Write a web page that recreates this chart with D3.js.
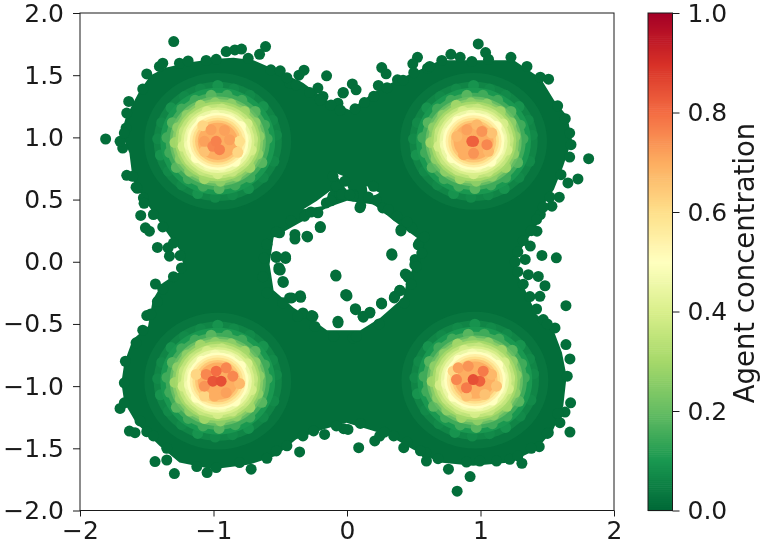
<!DOCTYPE html>
<html><head><meta charset="utf-8">
<script src="https://cdn.jsdelivr.net/npm/d3@7/dist/d3.min.js"></script>
<style>html,body{margin:0;padding:0;background:#fff}svg{display:block;filter:blur(0.45px)}text{font-family:"DejaVu Sans";fill:#1a1a1a}</style>
</head><body><svg id="c" width="762" height="545"></svg>
<script>
const xTicks=[-2,-1,0,1,2];
const yTicks=[-2,-1.5,-1,-0.5,0,0.5,1,1.5,2];
const barTicks=[0,0.2,0.4,0.6,0.8,1];
const cmapStops=["#006837","#1a9850","#66bd63","#a6d96a","#d9ef8b","#ffffbf","#fee08b","#fdae61","#f46d43","#d73027","#a50026"];
const clusterCentres=[[-0.968,0.968],[0.948,0.968],[-0.968,-0.96],[0.958,-0.952]];
const bandLevels=[0.03,0.06,0.1,0.15,0.2,0.25,0.3,0.35,0.4,0.45,0.5,0.55,0.6,0.65,0.7];
const bandRadii=[0.55,0.48,0.43,0.39,0.36,0.34,0.32,0.3,0.275,0.255,0.23,0.21,0.19,0.17,0.15];
const ringX=[0.2,0.17,0.09,-0.02,-0.12,-0.19,-0.21,-0.16,-0.07,0.03,0.13,0.19,
0.26,0.22,0.14,0.03,-0.08,-0.18,-0.25,-0.26,-0.21,-0.12,0,0.11,0.2,0.25,
0.31,0.28,0.2,0.1,-0.02,-0.13,-0.23,-0.3,-0.32,-0.28,-0.21,-0.1,0.02,0.14,0.24,0.3,
0.37,0.35,0.28,0.18,0.07,-0.05,-0.17,-0.27,-0.34,-0.38,-0.36,-0.31,-0.22,-0.11,0.01,0.13,0.24,0.33,
0.44,0.41,0.34,0.24,0.12,0,-0.13,-0.25,-0.35,-0.42,-0.45,-0.43,-0.37,-0.27,-0.15,-0.02,0.11,0.23,0.34,0.42];
const ringY=[0.03,0.12,0.18,0.21,0.16,0.07,-0.03,-0.13,-0.19,-0.2,-0.16,-0.07,
0.02,0.14,0.21,0.26,0.24,0.18,0.08,-0.04,-0.15,-0.23,-0.26,-0.24,-0.16,-0.07,
0.04,0.15,0.24,0.3,0.31,0.29,0.21,0.11,-0.01,-0.14,-0.24,-0.3,-0.32,-0.28,-0.21,-0.1,
0.02,0.13,0.24,0.33,0.37,0.37,0.33,0.26,0.15,0.03,-0.09,-0.21,-0.3,-0.36,-0.38,-0.35,-0.29,-0.17,
0.05,0.17,0.28,0.37,0.42,0.45,0.42,0.36,0.27,0.15,0.02,-0.11,-0.24,-0.35,-0.42,-0.45,-0.43,-0.38,-0.29,-0.16];
const ringC=[0.47,0.5,0.47,0.47,0.5,0.47,0.47,0.5,0.47,0.47,0.5,0.47,
0.36,0.39,0.36,0.36,0.39,0.36,0.36,0.39,0.36,0.36,0.39,0.36,0.36,0.39,
0.26,0.26,0.29,0.26,0.26,0.29,0.26,0.26,0.29,0.26,0.26,0.29,0.26,0.26,0.29,0.26,
0.15,0.15,0.18,0.15,0.15,0.18,0.15,0.15,0.18,0.15,0.15,0.18,0.15,0.15,0.18,0.15,0.15,0.18,
0.07,0.07,0.09,0.07,0.07,0.09,0.07,0.07,0.09,0.07,0.07,0.09,0.07,0.07,0.09,0.07,0.07,0.09,0.07,0.07];
const bodyOutline=[[-1.69,1.035],[-1.66,1.15],[-1.6,1.28],[-1.55,1.38],[-1.47,1.5],[-1.36,1.56],[-1.2,1.6],[-1,1.63],[-0.85,1.64],[-0.7,1.62],[-0.55,1.55],[-0.33,1.44],[-0.155,1.3],[0.02,1.22],[0.2,1.36],[0.37,1.46],[0.57,1.556],[0.7,1.62],[0.95,1.62],[1.25,1.62],[1.45,1.476],[1.55,1.3],[1.65,1.17],[1.685,0.98],[1.62,0.77],[1.55,0.58],[1.45,0.42],[1.42,0.29],[1.27,0.045],[1.26,-0.064],[1.345,-0.25],[1.42,-0.425],[1.545,-0.545],[1.61,-0.73],[1.645,-0.92],[1.62,-1.16],[1.545,-1.35],[1.42,-1.51],[1.22,-1.615],[0.945,-1.64],[0.695,-1.615],[0.495,-1.51],[0.32,-1.4],[0.17,-1.35],[-0.005,-1.294],[-0.18,-1.348],[-0.38,-1.428],[-0.53,-1.56],[-0.73,-1.63],[-1.005,-1.668],[-1.255,-1.615],[-1.405,-1.48],[-1.58,-1.294],[-1.668,-1.134],[-1.69,-0.973],[-1.668,-0.813],[-1.605,-0.626],[-1.49,-0.519],[-1.455,-0.305],[-1.38,-0.171],[-1.23,-0.064],[-1.23,-0.008],[-1.255,0.099],[-1.33,0.206],[-1.418,0.34],[-1.518,0.5],[-1.605,0.66],[-1.63,0.874]];
const holeOutline=[[-0.55,0.195],[-0.377,0.3],[-0.15,0.435],[0,0.49],[0.2,0.46],[0.35,0.33],[0.55,0.17],[0.52,0.01],[0.45,-0.15],[0.42,-0.29],[0.25,-0.45],[0.1,-0.55],[-0.15,-0.55],[-0.28,-0.45],[-0.4,-0.37],[-0.55,-0.23],[-0.58,-0.02]];
const gapOutlines=[[[-0.327,0.422],[-0.227,0.489],[-0.127,0.569],[-0.115,0.515],[-0.177,0.449]],[[-0.09,0.716],[-0.028,0.689],[0.028,0.542],[-0.015,0.595]],[[0.147,0.609],[0.242,0.555],[0.16,0.502]]];
const edgeX=[-1.298,-1.808,-0.61,-0.153,-0.322,-0.36,-0.2,-0.3,-0.39,-1.545,-0.53,-0.46,-0.51,-1.42,-1.34,-1.33,-1.51,-1.48,-1.65,-1.605,-1.57,-1.525,-1.68,-1.7,-1.65,-1.635,-1.53,-1.5,-1.405,-1.38,-1.255,-1.19,-1.055,-0.98,-0.905,-0.84,-0.79,-0.655,-0.74,-0.57,-0.5,-0.43,-0.218,-0.18,-0.068,-0.03,-1.655,-1.668,-0.105,-0.055,-0.155,-0.218,-0.318,-0.08,-0.018,-0.505,-0.105,
0.983,1.038,0.528,0.493,0.603,0.26,0.293,0.04,0.068,-0.028,0.235,0.378,1.81,1.73,1.655,1.668,1.678,1.668,1.635,1.578,1.51,1.448,1.348,1.228,0.778,0.848,0.71,0.935,1.06,1.59,1.535,1.603,1.448,1.423,0.405,0.335,0.543,1.46,1.568,1.373,1.335,0.51,0.103,0.048,0.218,0.268,0.198,-0.04,0.373,0.485,
-0.005,0.0625,0.17,0.12,0.258,0.395,0.358,0.445,0.508,1.64,1.483,1.433,1.358,1.445,1.558,1.47,1.64,1.67,1.65,1.675,1.633,1.67,1.595,1.44,1.31,1.12,0.995,0.895,0.922,0.825,0.76,0.682,0.595,0.59,0.425,0.0875,0.208,0.245,0.0075,0.045,1.508,1.22,
-0.085,-0.01,-0.48,-0.35,-0.43,-0.068,-0.255,-0.33,-0.168,-0.355,-0.025,-0.718,-0.805,-0.98,-1.048,-1.125,-1.293,-1.35,-1.438,-1.63,-1.588,-1.5,-1.7,-1.668,-1.668,-1.66,-1.58,-1.5,-1.435,-0.51,-0.53,
-0.2,-0.295,-0.53,-0.46,-0.5,-0.477,-0.082,0.337,0.404,0.437,0.459,0.397,0.354,0.26,0,0.065,-0.067,0.172,0.122,0.097,0.047,-0.264,-0.347,-0.414,-0.39,0.534,
-0.45,-0.38,-0.28,-0.2,-0.12,-0.05,0.06,0.13,0.2,0.3,0.42,0.5,0.62,
1.52,1.47,1.42,1.38,1.32,1.28,1.26,1.28,1.32,1.37,1.42,1.5,
1.58,1.5,1.38,1.28,0.55,0.45,0.35,0.28,0.1,-0.08,-0.25,-0.33,-0.45,-0.6,-1.35,-1.45,-1.55,
-1.53,-1.47,-1.42,-1.38,-1.3,-1.24,-1.25,-1.3,-1.38,-1.45,-1.52,-1.58,
-0.53,-0.42,-0.27,-0.12,0.02,0.16,0.31,0.45,0.58,0.56,0.52,0.48,0.43,0.24,0.07,-0.1,-0.24,-0.37,-0.48,-0.6,-0.63,-0.62,-0.6];
const edgeY=[1.77,0.987,1.73,1.495,1.54,1.5,0.283,0.206,0.22,0.372,0.043,0.04,-0.048,0.115,0.112,0.045,0.273,0.246,0.695,0.687,0.59,0.513,0.914,0.968,1.195,1.289,1.388,1.51,1.57,1.596,1.596,1.615,1.618,1.628,1.69,1.703,1.71,1.668,1.636,1.543,1.535,1.436,1.396,1.329,1.275,1.356,1.075,1.035,0.527,0.54,0.473,0.393,0.366,0.607,0.647,0.233,0.687,
1.751,1.682,1.644,1.591,1.556,1.561,1.511,1.43,1.382,1.361,1.417,1.463,0.829,0.666,0.634,0.842,0.941,1.035,1.15,1.254,1.468,1.484,1.57,1.644,1.668,1.644,1.618,1.61,1.628,0.519,0.447,0.7,0.38,0.246,0.259,0.064,0.152,0.051,0.032,0.126,0.019,0.019,0.452,0.54,0.495,0.433,0.607,0.54,0.366,0.273,
-0.265,-0.377,-0.412,-0.438,-0.332,-0.23,-0.278,-0.104,-0.024,-0.353,-0.193,-0.118,-0.104,-0.278,-0.532,-0.465,-0.666,-0.781,-0.92,-1.134,-1.209,-1.369,-1.294,-1.487,-1.62,-1.602,-1.602,-1.61,-1.727,-1.845,-1.668,-1.583,-1.602,-1.535,-1.495,-1.495,-1.441,-1.401,-1.348,-0.612,-1.374,-1.588,
-0.107,-0.265,-0.158,-0.273,-0.291,-0.479,-0.439,-0.412,-1.388,-1.529,-1.342,-1.668,-1.615,-1.655,-1.695,-1.647,-1.703,-1.594,-1.607,-1.361,-1.374,-1.366,-1.179,-1.134,-0.973,-0.8,-0.652,-0.433,-0.179,-0.064,-1.521,
0.275,0.2,0.035,0.027,-0.067,-0.166,-0.115,0.053,0.248,-0.099,-0.126,-0.232,-0.291,-0.339,-0.275,-0.385,-0.491,-0.406,-0.446,0.435,0.529,-0.433,-0.286,-0.291,0.182,0.136,
1.48,1.42,1.36,1.3,1.26,1.22,1.23,1.28,1.33,1.4,1.46,1.52,1.57,
0.52,0.44,0.34,0.25,0.17,0.08,0,-0.08,-0.18,-0.28,-0.38,-0.5,
-1.22,-1.38,-1.5,-1.56,-1.52,-1.45,-1.4,-1.37,-1.3,-1.32,-1.36,-1.4,-1.48,-1.58,-1.5,-1.4,-1.28,
-0.55,-0.42,-0.32,-0.22,-0.12,-0.05,0.05,0.15,0.28,0.38,0.47,0.6,
0.24,0.33,0.4,0.49,0.54,0.52,0.42,0.32,0.2,0.07,-0.04,-0.18,-0.33,-0.5,-0.6,-0.6,-0.52,-0.44,-0.33,-0.25,-0.12,0.03,0.14];
const coreX=[-1.018,-0.918,-1.068,-0.88,-0.98,-0.955,-1.005,-0.818,-1.068,-1.08,-0.805,
0.898,0.973,0.823,1.01,0.948,1.048,1.085,0.873,0.948,1.06,0.935,
-1.055,-0.98,-0.905,-0.855,-0.943,-1.005,-1.068,-0.905,-0.805,-0.993,-1.068,-1.13,
0.833,0.908,1.02,1.083,0.82,0.945,0.995,0.895,1.12,1.033,0.895,0.795];
const coreY=[1.061,1.056,0.968,0.981,0.968,0.901,0.928,0.88,0.888,1.094,0.968,
1.061,1.102,1.008,1.048,0.968,0.941,1.035,0.861,0.872,0.888,0.968,
-0.906,-0.88,-0.853,-0.92,-0.96,-0.96,-1,-1.053,-0.979,-1.08,-1.08,-0.906,
-0.853,-0.84,-0.88,-0.906,-0.947,-0.947,-0.96,-1.013,-1,-1.067,-1.08,-0.88];
const coreC=[0.72,0.72,0.72,0.72,0.77,0.77,0.76,0.62,0.66,0.62,0.6,
0.72,0.68,0.68,0.74,0.82,0.76,0.66,0.7,0.74,0.68,0.82,
0.76,0.8,0.76,0.76,0.85,0.84,0.74,0.72,0.68,0.7,0.62,0.62,
0.72,0.74,0.78,0.68,0.76,0.85,0.82,0.78,0.66,0.66,0.66,0.62];

const L=80,R=614,T=13,B=510.5,dotR=5.5;
const x=d3.scaleLinear().domain([-2,2]).range([L,R]);
const y=d3.scaleLinear().domain([-2,2]).range([B,T]);
const colour=d3.scaleLinear().domain(cmapStops.map((_,i)=>i/10)).range(cmapStops).interpolate(d3.interpolateRgb);
const svg=d3.select("#c");
const plot=svg.append("g");
const line=d3.line().x(d=>x(d[0])).y(d=>y(d[1])).curve(d3.curveLinearClosed);
plot.append("path").attr("d",line(bodyOutline)+line(holeOutline)+gapOutlines.map(g=>line(g)).join("")).attr("fill-rule","evenodd").attr("fill",colour(0.012));
plot.append("g").selectAll("circle").data(edgeX.map((v,i)=>[v,edgeY[i]])).join("circle")
 .attr("cx",d=>x(d[0])).attr("cy",d=>y(d[1])).attr("r",dotR).attr("fill",colour(0.012));
const ux=x(1)-x(0),uy=y(0)-y(1);
clusterCentres.forEach(c=>{
 const marks=bandLevels.map((l,i)=>({c:l,cx:c[0],cy:c[1],rx:bandRadii[i]*ux,ry:bandRadii[i]*uy}))
  .concat(ringX.map((v,i)=>({c:ringC[i],cx:c[0]+v,cy:c[1]+ringY[i],rx:dotR,ry:dotR})))
  .sort((a,b)=>a.c-b.c);
 plot.append("g").selectAll("ellipse").data(marks).join("ellipse")
  .attr("cx",d=>x(d.cx)).attr("cy",d=>y(d.cy)).attr("rx",d=>d.rx).attr("ry",d=>d.ry).attr("fill",d=>colour(d.c));
});
plot.append("g").selectAll("circle").data(coreX.map((v,i)=>[v,coreY[i],coreC[i]]).sort((a,b)=>a[2]-b[2])).join("circle")
 .attr("cx",d=>x(d[0])).attr("cy",d=>y(d[1])).attr("r",dotR).attr("fill",d=>colour(d[2]));

const fs=25;
function style(g){g.selectAll("text").style("font-size",fs+"px").style("font-family","DejaVu Sans").style("fill","#1a1a1a");
 g.selectAll(".tick line").attr("stroke","#1a1a1a").attr("stroke-width",1);g.select(".domain").remove();}
const fmt=d=>d3.format(".1f")(d).replace("-","\u2212");
svg.append("g").attr("transform",`translate(0,${B})`)
 .call(d3.axisBottom(x).tickValues(xTicks).tickSize(6).tickPadding(4.5).tickFormat(d=>String(d).replace("-","\u2212"))).call(style);
svg.append("g").attr("transform",`translate(${L},0)`)
 .call(d3.axisLeft(y).tickValues(yTicks).tickSize(7).tickPadding(9).tickFormat(fmt)).call(style);
svg.append("rect").attr("x",L).attr("y",T).attr("width",R-L).attr("height",B-T).attr("fill","none").attr("stroke","#1a1a1a").attr("stroke-width",1);

const bL=648,bR=672.5;
const by=d3.scaleLinear().domain([0,1]).range([B,T]);
svg.append("g").selectAll("rect").data(d3.range(0,256)).join("rect")
 .attr("x",bL).attr("width",bR-bL).attr("y",d=>by((d+1)/256)).attr("height",(B-T)/256+0.6).attr("fill",d=>colour(d/255));
svg.append("rect").attr("x",bL).attr("y",T).attr("width",bR-bL).attr("height",B-T).attr("fill","none").attr("stroke","#1a1a1a").attr("stroke-width",1);
svg.append("g").attr("transform",`translate(${bR},0)`)
 .call(d3.axisRight(by).tickValues(barTicks).tickSize(7).tickPadding(8).tickFormat(d3.format(".1f"))).call(style);
svg.append("text").attr("transform",`translate(754,263) rotate(-90)`).attr("text-anchor","middle").style("font-size","27.5px").text("Agent concentration");
</script></body></html>
